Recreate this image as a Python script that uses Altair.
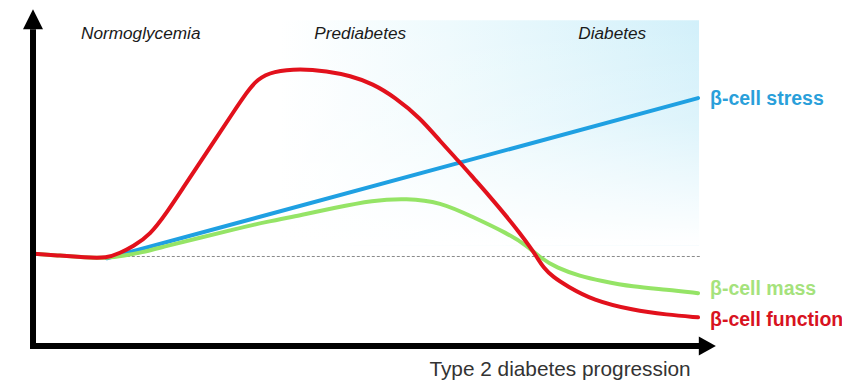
import altair as alt
import pandas as pd

# x: disease progression (0 = origin, 100 = end of curves)
# y: level relative to the normal baseline (1 = baseline)
func_x = [0, 4.1, 7.8, 11.1, 13.1, 15.0, 17.6, 20.2, 22.6, 25.1, 27.7, 30.1, 32.2, 33.7, 36.1,
          40.2, 44.2, 47.7, 51.1, 54.4, 58.2, 61.2, 64.2, 66.2, 68.7, 71.3, 73.2, 74.7, 75.8,
          76.7, 78.2, 80.3, 84.2, 90.2, 95.3, 100]
func_y = [1.03, 1.01, 0.99, 0.98, 1.04, 1.11, 1.24, 1.50, 1.77, 2.05, 2.34, 2.61, 2.84, 2.98, 3.07,
          3.10, 3.07, 3.02, 2.93, 2.78, 2.55, 2.29, 2.05, 1.88, 1.67, 1.44, 1.26, 1.11, 0.99,
          0.88, 0.77, 0.67, 0.51, 0.40, 0.35, 0.32]

mass_x = [0, 4.1, 7.8, 11.1, 13.8, 16.1, 20.2, 25.1, 30.1, 35.2, 40.2, 45.1, 51.1, 56.2, 61.2,
          66.2, 71.3, 74.3, 76.2, 78.8, 82.3, 85.3, 90.2, 95.3, 100]
mass_y = [1.03, 1.01, 0.99, 0.98, 1.01, 1.04, 1.12, 1.21, 1.30, 1.39, 1.46, 1.54, 1.63, 1.65, 1.61,
          1.44, 1.26, 1.12, 0.99, 0.87, 0.78, 0.73, 0.66, 0.63, 0.59]

stress_x = [11.1, 100]
stress_y = [0.98, 2.77]

baseline_level = 1.0
baseline_span = [12.6, 100.3]

phase_names = ["Normoglycemia", "Prediabetes", "Diabetes"]
phase_x = [16.2, 49.2, 87.1]
phase_y = [3.43, 3.43, 3.43]

series_names = ["β-cell stress", "β-cell mass", "β-cell function"]
series_label_y = [2.76, 0.64, 0.29]
series_label_x = [101.8, 101.8, 101.8]
series_colors = ["#2a9fda", "#a5e27c", "#d8131f"]

x_title = "Type 2 diabetes progression"
x_title_pos = [79.25, -0.33]

# axis arrows frame
y_axis_span = [-0.03, 3.54]
x_axis_span = [-0.45, 100.15]
y_arrow_tip = [0, 3.651]
x_arrow_tip = [101.4, 0]

# shaded diabetes zone
zone_x = [37.1, 100.15]
zone_y = [1.12, 3.64]

xs = alt.Scale(domain=[-3.76, 121.65], nice=False, zero=False)
ys = alt.Scale(domain=[-0.38, 3.7765], nice=False, zero=False)

def X(f="x"):
    return alt.X(f"{f}:Q", scale=xs, axis=None)

def Y(f="y"):
    return alt.Y(f"{f}:Q", scale=ys, axis=None)

zone_df = pd.DataFrame({"x": [zone_x[0]], "x2": [zone_x[1]], "y": [zone_y[1]], "y2": [zone_y[0]]})

zone_h = alt.Chart(zone_df).mark_rect(
    fill=alt.LinearGradient(
        gradient="linear", x1=0, y1=0, x2=1, y2=0,
        stops=[alt.GradientStop(offset=0, color="#ffffff"),
               alt.GradientStop(offset=0.4, color="#eefafd"),
               alt.GradientStop(offset=1, color="#d2f0fa")],
    ),
    strokeWidth=0,
).encode(x=X(), x2="x2:Q", y=Y(), y2="y2:Q")

zone_v = alt.Chart(zone_df).mark_rect(
    fill=alt.LinearGradient(
        gradient="linear", x1=0, y1=0, x2=0, y2=1,
        stops=[alt.GradientStop(offset=0, color="rgba(255,255,255,0)"),
               alt.GradientStop(offset=0.45, color="rgba(255,255,255,0.25)"),
               alt.GradientStop(offset=1, color="rgba(255,255,255,1)")],
    ),
    strokeWidth=0,
).encode(x=X(), x2="x2:Q", y=Y(), y2="y2:Q")

dotted = alt.Chart(pd.DataFrame({"x": [baseline_span[0]], "x2": [baseline_span[1]], "y": [baseline_level]})).mark_rule(
    color="#8a8a8a", strokeWidth=1, strokeDash=[3, 2]
).encode(x=X(), x2="x2:Q", y=Y())

def line(xv, yv, color, interp):
    return alt.Chart(pd.DataFrame({"x": xv, "y": yv, "o": list(range(len(xv)))})).mark_line(
        color=color, strokeWidth=4, interpolate=interp, strokeCap="round", strokeJoin="round"
    ).encode(x=X(), y=Y(), order="o:Q")

stress = line(stress_x, stress_y, "#1fa0e2", "linear")
mass = line(mass_x, mass_y, "#95e466", "basis")
func = line(func_x, func_y, "#e2111c", "basis")

yaxis = alt.Chart(pd.DataFrame({"x": [0], "y": [y_axis_span[0]], "y2": [y_axis_span[1]]})).mark_rule(
    color="black", strokeWidth=6, strokeCap="butt"
).encode(x=X(), y=Y(), y2="y2:Q")
xaxis = alt.Chart(pd.DataFrame({"x": [x_axis_span[0]], "x2": [x_axis_span[1]], "y": [0]})).mark_rule(
    color="black", strokeWidth=6, strokeCap="butt"
).encode(x=X(), x2="x2:Q", y=Y())

up_head = alt.Chart(pd.DataFrame({"x": [y_arrow_tip[0]], "y": [y_arrow_tip[1]]})).mark_point(
    shape="M0,-1L1,1L-1,1Z", size=400, filled=True, color="black", opacity=1
).encode(x=X(), y=Y())
right_head = alt.Chart(pd.DataFrame({"x": [x_arrow_tip[0]], "y": [x_arrow_tip[1]]})).mark_point(
    shape="M0.9,0L-0.9,-1L-0.9,1Z", size=361, filled=True, color="black", opacity=1
).encode(x=X(), y=Y())

phases = alt.Chart(pd.DataFrame({"x": phase_x, "y": phase_y, "t": phase_names})).mark_text(
    font="Liberation Sans", fontStyle="italic", fontSize=17.2, color="#1a1a1a",
    align="center", baseline="alphabetic"
).encode(x=X(), y=Y(), text="t:N")

labels = alt.Chart(pd.DataFrame({"x": series_label_x, "y": series_label_y, "t": series_names})).mark_text(
    font="Liberation Sans", fontWeight="bold", fontSize=19.5, align="left", baseline="middle"
).encode(
    x=X(), y=Y(), text="t:N",
    color=alt.Color("t:N", scale=alt.Scale(domain=series_names, range=series_colors), legend=None),
)

title = alt.Chart(pd.DataFrame({"x": [x_title_pos[0]], "y": [x_title_pos[1]], "t": [x_title]})).mark_text(
    font="Liberation Sans", fontSize=20.8, color="#333333", align="center", baseline="alphabetic"
).encode(x=X(), y=Y(), text="t:N")

chart = alt.layer(
    zone_h, zone_v, dotted, stress, mass, func, yaxis, xaxis, up_head, right_head, phases, labels, title
).properties(
    width=834, height=372, padding=0,
    autosize=alt.AutoSizeParams(type="none"),
    background="white",
).configure_view(strokeWidth=0)

chart.save("out.html", embed_options={"renderer": "svg", "actions": False})
